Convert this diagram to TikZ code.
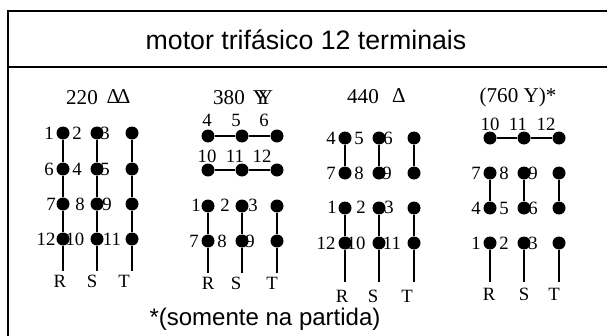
\documentclass[tikz,border=0pt]{standalone}
\usepackage{fontspec}
\setmainfont{Liberation Serif}
\newfontfamily\arialfont{Liberation Sans}
\usetikzlibrary{positioning,calc}
\tikzset{
	term/.style={circle,fill=black,inner sep=0pt,minimum size=0.39cm},
	lab/.style={inner sep=0pt,font=\fontsize{16}{18}\selectfont},
	head/.style={inner sep=0pt,font=\fontsize{18}{20}\selectfont},
	tit/.style={inner sep=0pt,font=\arialfont\fontsize{22.8}{24}\selectfont},
	note/.style={inner sep=0pt,font=\arialfont\fontsize{20.5}{24}\selectfont},
	wire/.style={line width=0.6mm},
	frame/.style={line width=0.6mm}
}
\begin{document}
\begin{tikzpicture}[x=0.03cm,y=-0.03cm]
	\useasboundingbox (0,0) rectangle (607,336);
	\coordinate (fa) at (8,336);
	\coordinate (fb) at (8,11);
	\coordinate (fc) at (607,11);
	\coordinate (fd) at (8,67);
	\coordinate (fe) at (607,67);
	\draw[frame] (fa) -- (fb) -- (fc);
	\draw[frame] (fd) -- (fe);
	\node[tit] (title) at (306,40) {motor trifásico 12 terminais};
	\node[note] (somente) at (265,319) {*(somente na partida)};
	% 220
	\node[head] (h220) at (82,98) {220};
	\node[head] (d220) at (118.5,97) {Δ\hspace{-3pt}Δ};
	\foreach \n/\x/\y in {a1/63/133,a2/97/133,a3/132/133,a6/63/169,a4/97/169,a5/132/169,a7/63/204,a8/97/204,a9/132/204,a12/63/239,a10/97/239,a11/132/239}
		\node[term] (\n) at (\x,\y) {};
	\coordinate (aR) at (63,271);
	\coordinate (aS) at (97,271);
	\coordinate (aT) at (132,271);
	\draw[wire] (a1) -- (a6) -- (a7) -- (a12) -- (aR);
	\draw[wire] (a2) -- (a4) -- (a8) -- (a10) -- (aS);
	\draw[wire] (a3) -- (a5) -- (a9) -- (a11) -- (aT);
	\foreach \t/\x/\y in {1/49/133,2/77/133,3/105/133,6/49/169,4/77/169,5/105/169,7/51/204,8/80/204,9/107/204,12/46/239,10/75/239,11/112/239,R/60/281,S/92/281,T/124/281}
		\node[lab] (la\t) at (\x,\y) {\t};
	% 380
	\node[head] (h380) at (229,98) {380};
	\node[head] (y380) at (263,98) {Y\hspace{-8.75pt}Y};
	\foreach \n/\x/\y in {b4/208/136,b5/242/136,b6/277/136,b10/208/170,b11/242/170,b12/277/170,b1/208/206,b2/242/206,b3/277/206,b7/208/241,b8/242/241,b9/277/241}
		\node[term] (\n) at (\x,\y) {};
	\coordinate (bR) at (208,273);
	\coordinate (bS) at (242,273);
	\coordinate (bT) at (277,273);
	\draw[wire] (b4) -- (b5) -- (b6);
	\draw[wire] (b10) -- (b11) -- (b12);
	\draw[wire] (b1) -- (b7) -- (bR);
	\draw[wire] (b2) -- (b8) -- (bS);
	\draw[wire] (b3) -- (b9) -- (bT);
	\foreach \t/\x/\y in {4/207/120,5/236/120,6/264/120,10/207/156,11/235/156,12/262/156,1/196/205,2/225/205,3/253/205,7/194/241,8/222/241,9/250/241,R/208/283,S/236/283,T/272/283}
		\node[lab] (lb\t) at (\x,\y) {\t};
	% 440
	\node[head] (h440) at (363,97) {440};
	\node[head] (d440) at (399,96) {Δ};
	\foreach \n/\x/\y in {c4/345/138,c5/379/138,c6/414/138,c7/345/173,c8/379/173,c9/414/173,c1/345/208,c2/379/208,c3/414/208,c12/345/243,c10/379/243,c11/414/243}
		\node[term] (\n) at (\x,\y) {};
	\coordinate (cR) at (345,282);
	\coordinate (cS) at (379,282);
	\coordinate (cT) at (414,282);
	\draw[wire] (c4) -- (c7);
	\draw[wire] (c5) -- (c8);
	\draw[wire] (c6) -- (c9);
	\draw[wire] (c1) -- (c12) -- (cR);
	\draw[wire] (c2) -- (c10) -- (cS);
	\draw[wire] (c3) -- (c11) -- (cT);
	\foreach \t/\x/\y in {4/331/138,5/359/138,6/388/138,7/331/173,8/359/173,9/387/173,1/332/207,2/361/207,3/389/207,12/326/243,10/356/243,11/392/243,R/342/296,S/373/296,T/407/296}
		\node[lab] (lc\t) at (\x,\y) {\t};
	% 760
	\node[head] (h760) at (518,97) {(760 Y)*};
	\foreach \n/\x/\y in {d10/490/138,d11/524/138,d12/559/138,d7/490/173,d8/524/173,d9/559/173,d4/490/208,d5/524/208,d6/559/208,d1/490/243,d2/524/243,d3/559/243}
		\node[term] (\n) at (\x,\y) {};
	\coordinate (dR) at (490,282);
	\coordinate (dS) at (524,282);
	\coordinate (dT) at (559,282);
	\draw[wire] (d10) -- (d11) -- (d12);
	\draw[wire] (d7) -- (d4);
	\draw[wire] (d8) -- (d5);
	\draw[wire] (d9) -- (d6);
	\draw[wire] (d1) -- (dR);
	\draw[wire] (d2) -- (dS);
	\draw[wire] (d3) -- (dT);
	\foreach \t/\x/\y in {10/490/124,11/518/124,12/546/124,7/476/173,8/504/173,9/533/173,4/476/208,5/504/208,6/533/208,1/476/243,2/504/243,3/533/243,R/489/294,S/524/294,T/554/294}
		\node[lab] (ld\t) at (\x,\y) {\t};
\end{tikzpicture}
\end{document}
